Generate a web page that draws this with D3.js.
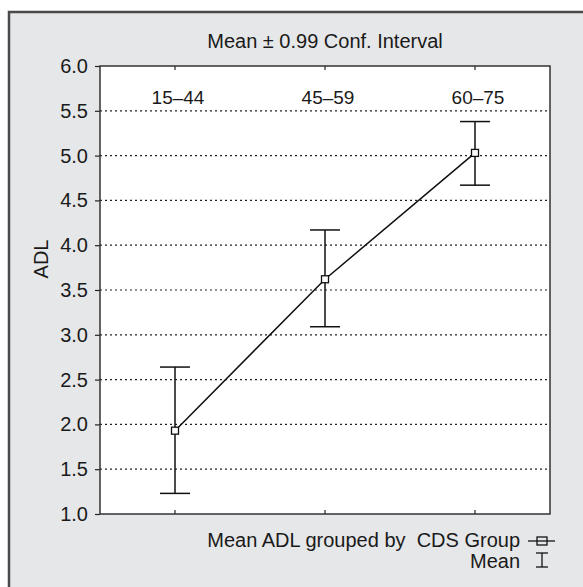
<!DOCTYPE html>
<html>
<head>
<meta charset="utf-8">
<script src="https://cdn.jsdelivr.net/npm/d3@7"></script>
<style>
  body { margin: 0; background: #fff; }
  text { font-family: "Liberation Sans", Arial, sans-serif; fill: #1a1a1a; }
</style>
</head>
<body>
<div id="chart"></div>
<script>
// data
const groups = ["15–44", "45–59", "60–75"];
const means = [1.93, 3.62, 5.03];
const upper = [2.64, 4.17, 5.38];
const lower = [1.23, 3.09, 4.67];
const yTicks = [1.0, 1.5, 2.0, 2.5, 3.0, 3.5, 4.0, 4.5, 5.0, 5.5, 6.0];

const W = 583, H = 587;
const plot = {left: 100, right: 550, top: 66, bottom: 514};

const svg = d3.select("#chart")
  .append("svg")
    .attr("width", W)
    .attr("height", H);

// grey frame
svg.append("rect")
  .attr("x", 9).attr("y", 12)
  .attr("width", W).attr("height", H)
  .attr("fill", "#e6e7e9")
  .attr("stroke", "#4a4a4a")
  .attr("stroke-width", 2.5);

const x = d3.scalePoint()
  .domain(groups)
  .range([plot.left, plot.right])
  .padding(0.5);

const y = d3.scaleLinear()
  .domain([1, 6])
  .range([plot.bottom, plot.top]);

// white plot area
svg.append("rect")
  .attr("x", plot.left).attr("y", plot.top)
  .attr("width", plot.right - plot.left)
  .attr("height", plot.bottom - plot.top)
  .attr("fill", "#fff");

// dotted grid
svg.append("g")
  .selectAll("line")
  .data(yTicks.filter(d => d > 1 && d < 6))
  .join("line")
    .attr("x1", plot.left).attr("x2", plot.right)
    .attr("y1", d => y(d)).attr("y2", d => y(d))
    .attr("stroke", "#222")
    .attr("stroke-width", 1.2)
    .attr("stroke-dasharray", "2,3");

// y axis
const yAxis = svg.append("g")
  .attr("transform", `translate(${plot.left},0)`)
  .call(d3.axisLeft(y).tickValues(yTicks).tickFormat(d3.format(".1f")).tickSize(5).tickPadding(7));
yAxis.select(".domain").remove();
yAxis.selectAll(".tick line").attr("stroke", "#222").attr("stroke-width", 1.2);
yAxis.selectAll("text")
  .style("font-size", "20px")
  .attr("fill", "#1a1a1a");

// category ticks at top and bottom (inside)
svg.append("g")
  .selectAll("line")
  .data(groups)
  .join("line")
    .attr("x1", d => x(d)).attr("x2", d => x(d))
    .attr("y1", plot.top).attr("y2", plot.top + 4)
    .attr("stroke", "#222").attr("stroke-width", 1.2);
svg.append("g")
  .selectAll("line")
  .data(groups)
  .join("line")
    .attr("x1", d => x(d)).attr("x2", d => x(d))
    .attr("y1", plot.bottom).attr("y2", plot.bottom - 4)
    .attr("stroke", "#222").attr("stroke-width", 1.2);

// plot border
svg.append("rect")
  .attr("x", plot.left).attr("y", plot.top)
  .attr("width", plot.right - plot.left)
  .attr("height", plot.bottom - plot.top)
  .attr("fill", "none")
  .attr("stroke", "#333")
  .attr("stroke-width", 1.5);

// category labels inside the plot
svg.append("g")
  .selectAll("text")
  .data(groups)
  .join("text")
    .attr("x", d => x(d) + 3)
    .attr("y", 104)
    .attr("text-anchor", "middle")
    .style("font-size", "19px")
    .text(d => d);

// error bars
const capW = 15;
const bars = svg.append("g")
  .selectAll("g")
  .data(groups)
  .join("g")
    .attr("stroke", "#111")
    .attr("stroke-width", 1.5);
bars.append("line")
  .attr("x1", d => x(d)).attr("x2", d => x(d))
  .attr("y1", (d, i) => y(lower[i])).attr("y2", (d, i) => y(upper[i]));
bars.append("line")
  .attr("x1", d => x(d) - capW).attr("x2", d => x(d) + capW)
  .attr("y1", (d, i) => y(upper[i])).attr("y2", (d, i) => y(upper[i]));
bars.append("line")
  .attr("x1", d => x(d) - capW).attr("x2", d => x(d) + capW)
  .attr("y1", (d, i) => y(lower[i])).attr("y2", (d, i) => y(lower[i]));

// mean line
svg.append("path")
  .datum(groups)
  .attr("fill", "none")
  .attr("stroke", "#111")
  .attr("stroke-width", 1.5)
  .attr("d", d3.line()
    .x(d => x(d))
    .y((d, i) => y(means[i])));

// mean markers
svg.append("g")
  .selectAll("rect")
  .data(groups)
  .join("rect")
    .attr("x", d => x(d) - 3.5)
    .attr("y", (d, i) => y(means[i]) - 3.5)
    .attr("width", 7).attr("height", 7)
    .attr("fill", "#fff")
    .attr("stroke", "#111")
    .attr("stroke-width", 1.3);

// title
svg.append("text")
  .attr("x", (plot.left + plot.right) / 2)
  .attr("y", 48)
  .attr("text-anchor", "middle")
  .style("font-size", "20px")
  .text("Mean ± 0.99 Conf. Interval");

// y axis title
svg.append("text")
  .attr("transform", "translate(48,259)rotate(-90)")
  .attr("text-anchor", "middle")
  .style("font-size", "20px")
  .text("ADL");

// legend
svg.append("text")
  .attr("x", 520).attr("y", 547)
  .attr("text-anchor", "end")
  .style("font-size", "20px")
  .style("white-space", "pre")
  .text("Mean ADL grouped by  CDS Group");
svg.append("text")
  .attr("x", 520).attr("y", 568)
  .attr("text-anchor", "end")
  .style("font-size", "20px")
  .text("Mean");

const lg = svg.append("g").attr("stroke", "#111").attr("stroke-width", 1.3);
lg.append("line").attr("x1", 528).attr("x2", 555).attr("y1", 541).attr("y2", 541);
lg.append("rect").attr("x", 537).attr("y", 537).attr("width", 10).attr("height", 8).attr("fill", "none");
lg.append("line").attr("x1", 542).attr("x2", 542).attr("y1", 553).attr("y2", 567);
lg.append("line").attr("x1", 536).attr("x2", 548).attr("y1", 553).attr("y2", 553);
lg.append("line").attr("x1", 536).attr("x2", 548).attr("y1", 567).attr("y2", 567);
</script>
</body>
</html>
